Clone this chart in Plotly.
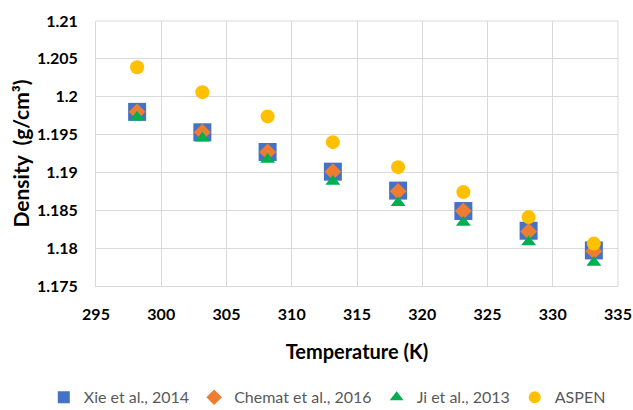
import plotly.graph_objects as go

temperature = [298.15, 303.15, 308.15, 313.15, 318.15, 323.15, 328.15, 333.15]
xie_2014 = [1.1980, 1.1953, 1.1927, 1.1901, 1.1876, 1.1849, 1.1823, 1.1797]
chemat_2016 = [1.1980, 1.1953, 1.1927, 1.1901, 1.1875, 1.1849, 1.1822, 1.1796]
ji_2013 = [1.1973, 1.1945, 1.1917, 1.1888, 1.1860, 1.1834, 1.1808, 1.1781]
aspen = [1.2039, 1.2006, 1.1974, 1.1940, 1.1907, 1.1874, 1.1841, 1.1806]

series = [
    ("Xie et al., 2014", xie_2014, "square", "#4472C4", 18),
    ("Chemat et al., 2016", chemat_2016, "diamond", "#ED7D31", 13),
    ("Ji et al., 2013", ji_2013, "triangle-up", "#00B050", 13),
    ("ASPEN", aspen, "circle", "#FFC000", 14),
]

fig = go.Figure()
for name, vals, sym, col, size in series:
    fig.add_trace(go.Scatter(
        x=temperature, y=vals, mode="markers", name=name,
        marker=dict(symbol=sym, color=col, size=size, line=dict(width=0)),
    ))

font_family = "Lato, 'Open Sans', sans-serif"
fig.update_layout(
    width=633, height=410,
    margin=dict(l=96, r=15, t=21, b=124, autoexpand=False),
    paper_bgcolor="white", plot_bgcolor="white",
    font=dict(family=font_family, color="#000000"),
    showlegend=True,
    legend=dict(orientation="h", xref="paper", yref="paper",
                x=-0.10, xanchor="left", y=-0.356, yanchor="top",
                font=dict(size=16, color="#595959"),
                itemsizing="constant", traceorder="normal"),
    xaxis=dict(
        range=[295, 335], dtick=5, tick0=295,
        showgrid=True, gridcolor="#D9D9D9", gridwidth=1,
        showline=True, linecolor="#D9D9D9", mirror=False,
        zeroline=False, ticks="", ticklabelstandoff=14,
        tickfont=dict(size=16, family=font_family, weight="bold", color="#000"),
        title=dict(text="Temperature (K)", standoff=22,
                   font=dict(size=20, family=font_family, weight="bold", color="#000")),
    ),
    yaxis=dict(
        range=[1.175, 1.21], dtick=0.005, tick0=1.175,
        showgrid=True, gridcolor="#D9D9D9", gridwidth=1,
        showline=True, linecolor="#D9D9D9",
        zeroline=False, ticks="", ticklabelstandoff=14,
        tickformat="~r",
        tickfont=dict(size=16, family=font_family, weight="bold", color="#000"),
        title=dict(text="Density  (g/cm³)", standoff=1,
                   font=dict(size=21, family=font_family, weight="bold", color="#000")),
    ),
)
# right and top border gridlines
fig.add_shape(type="line", xref="paper", yref="paper", x0=1, x1=1, y0=0, y1=1,
              line=dict(color="#D9D9D9", width=1))
fig.add_shape(type="line", xref="paper", yref="paper", x0=0, x1=1, y0=1, y1=1,
              line=dict(color="#D9D9D9", width=1))

fig.write_html("out.html")
